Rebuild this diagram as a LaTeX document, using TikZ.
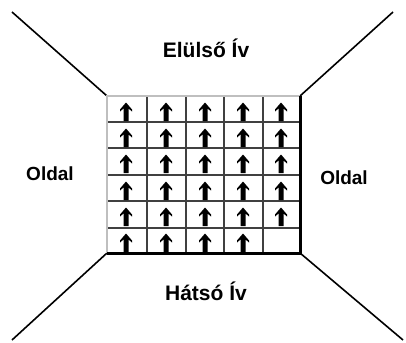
\documentclass[tikz,border=0pt]{standalone}
\usepackage{fontspec}
\setmainfont{Liberation Sans}
\tikzset{
  lbl/.style={font=\bfseries\fontsize{21}{24}\selectfont, inner sep=0pt, anchor=center},
  sidelbl/.style={font=\bfseries\fontsize{19}{22}\selectfont, inner sep=0pt, anchor=center},
  diag/.style={line width=1.6pt, black},
  inner/.style={line width=1.6pt, black!75},
  light/.style={line width=1.4pt, black!25},
  heavy/.style={line width=3pt, black},
  uparrow/.pic={\fill[black] (0,-9.5) -- (6,-2.5) -- (6,-0.5) -- (2.5,-3.5) -- (2.5,9) -- (-2.5,9) -- (-2.5,-3.5) -- (-6,-0.5) -- (-6,-2.5) -- cycle;}
}
\begin{document}
\begin{tikzpicture}[x=1pt,y=-1pt]
\useasboundingbox (0,0) rectangle (406,342);
\fill[white] (0,0) rectangle (406,342);
% grid corners
\coordinate (tl) at (107,96);
\coordinate (tr) at (300,96);
\coordinate (bl) at (107,253);
\coordinate (br) at (300,253);
% outer ends
\coordinate (otl) at (12,12);
\coordinate (otr) at (393,12);
\coordinate (obl) at (12,340);
\coordinate (obr) at (403,340);
% diagonals
\draw[diag] (otl) -- (tl);
\draw[diag] (otr) -- (tr);
\draw[diag] (bl) -- (obl);
\draw[diag] (br) -- (obr);
% inner grid lines
\foreach \x in {147,186,224,263} \draw[inner] (\x,96) -- (\x,253);
\foreach \y in {122,148,175,201,228} \draw[inner] (107,\y) -- (300,\y);
% borders
\draw[light] (bl) -- (tl) -- (tr);
\draw[heavy] (tr) -- (br) -- (bl);
% arrows
\foreach \y in {112,138,164,191,217} {
  \foreach \x in {126,166,205,243,281} \pic at (\x,\y) {uparrow};
}
\foreach \x in {126,166,205,243} \pic at (\x,243) {uparrow};
% labels
\node[lbl] (front) at (206,48) {Elülső Ív};
\node[lbl] (back) at (206,291) {Hátsó Ív};
\node[sidelbl] (left) at (50,174) {Oldal};
\node[sidelbl] (right) at (344,178) {Oldal};
\end{tikzpicture}
\end{document}
